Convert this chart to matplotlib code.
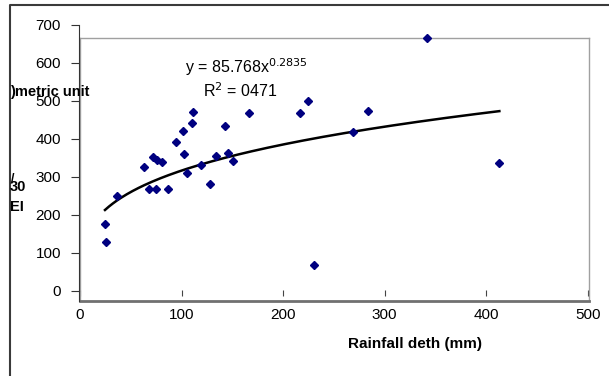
import numpy as np
import matplotlib
matplotlib.use("Agg")
import matplotlib.pyplot as plt
from matplotlib.lines import Line2D

plt.rcParams['font.family'] = ['Liberation Sans', 'DejaVu Sans']

# ---- data ----
rain_mm = [24.6, 25.6, 36.1, 63, 68, 71.6, 74.9, 75.5, 81, 87, 94.9, 101.5, 102.5, 105,
           110.3, 111.6, 119, 128, 134.3, 142.9, 146.1, 151, 166.5, 217, 224.3, 230.9,
           268.6, 283.7, 341.6, 413]
ei30 = [175, 127, 250, 326, 268, 351, 268, 345, 340, 268, 392, 420, 361, 309,
        443, 471, 330, 282, 355, 433, 364, 343, 467, 467, 501, 68,
        419, 473, 667, 336]
coef_a = 85.768
coef_b = 0.2835
x_ticks = [0, 100, 200, 300, 400, 500]
y_ticks = [0, 100, 200, 300, 400, 500, 600, 700]
eq_text = r"y = 85.768x$^{0.2835}$"
r2_text = r"R$^{2}$ = 0471"
x_label = "Rainfall deth (mm)"

W, H = 609, 376
fig = plt.figure(figsize=(W / 100, H / 100), dpi=100)

def fx(px):
    return px / W

def fy(py):
    return 1 - py / H

# outer frame
fig.add_artist(Line2D([fx(10), fx(10), fx(612)], [fy(380), fy(4.5), fy(4.5)],
                      transform=fig.transFigure, color='#3a3a3a', lw=1.5))

# main plot area
left, right, top, bottom = 80, 589, 37.7, 301
ax = fig.add_axes([fx(left), fy(bottom), (right - left) / W, (bottom - top) / H])
y0_px = 290.7
ppu_y = (290.7 - 25) / 700
ax.set_xlim(0, 500 * (right - left) / (587.7 - left))
ax.set_ylim(-(bottom - y0_px) / ppu_y, (y0_px - top) / ppu_y)
for s in ['top', 'right', 'left']:
    ax.spines[s].set_color('#a0a0a0')
    ax.spines[s].set_linewidth(1.0)
ax.spines['bottom'].set_color('#707070')
ax.spines['bottom'].set_linewidth(2.0)
ax.set_xticks([])
ax.set_yticks([])

# trendline
xs = np.linspace(min(rain_mm), max(rain_mm), 200)
ax.plot(xs, coef_a * xs ** coef_b, color='black', lw=1.8, zorder=2)
ax.plot(rain_mm, ei30, linestyle='none', marker='D', markersize=4.2,
        color='#000080', zorder=3, clip_on=False)

# x axis ticks (drawn slightly above the box bottom, as in the reference)
sec = ax.secondary_xaxis((bottom - 293) / (bottom - top))
for s in sec.spines.values():
    s.set_visible(False)
sec.set_xticks(x_ticks)
sec.tick_params(direction='inout', length=4, width=0.8, color='#444444',
                labelsize=11, pad=9)

# y axis
ay = fig.add_axes([fx(79), fy(y0_px), 0.0001, (y0_px - 25) / H])
ay.patch.set_visible(False)
for s in ['top', 'right', 'bottom']:
    ay.spines[s].set_visible(False)
ay.spines['left'].set_color('#333333')
ay.set_ylim(0, 700)
ay.set_yticks(y_ticks)
ay.set_xticks([])
ay.tick_params(axis='y', direction='out', length=6, width=0.8, color='#333333',
               labelsize=11, pad=7)
fig.add_artist(Line2D([fx(79), fx(79)], [fy(y0_px), fy(bottom)],
                      transform=fig.transFigure, color='#333333', lw=0.8))

# equation texts
fig.text(fx(246), fy(67), eq_text, ha='center', va='center', fontsize=11.5)
fig.text(fx(240), fy(91), r2_text, ha='center', va='center', fontsize=11.5)

# axis label remnants
fig.text(fx(10), fy(92), ")metric unit", ha='left', va='center', fontsize=10.5,
         fontweight='bold')
fig.text(fx(11), fy(179), "/", ha='left', va='center', fontsize=9, fontweight='bold')
fig.text(fx(10), fy(187), "30", ha='left', va='center', fontsize=10.5, fontweight='bold')
fig.text(fx(10), fy(207), "EI", ha='left', va='center', fontsize=10.5, fontweight='bold')
fig.text(fx(348), fy(344), x_label, ha='left', va='center', fontsize=11, fontweight='bold')

fig.savefig("out.png", dpi=100)
